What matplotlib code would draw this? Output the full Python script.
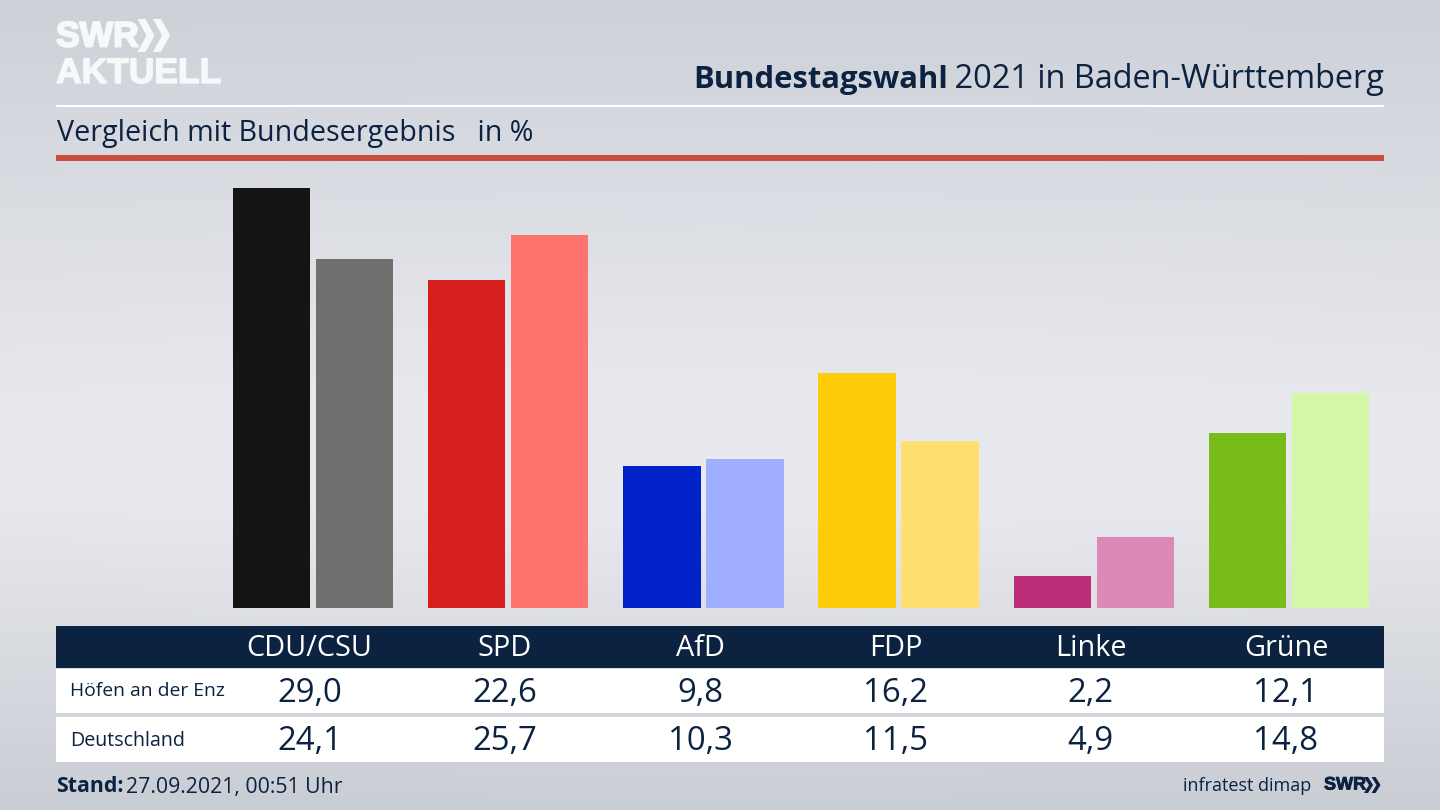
import numpy as np
import matplotlib
matplotlib.use("Agg")
import matplotlib.pyplot as plt
import matplotlib.patheffects as pe
from matplotlib.colors import LinearSegmentedColormap
from matplotlib.patches import Rectangle, Polygon

parties = ["CDU/CSU", "SPD", "AfD", "FDP", "Linke", "Grüne"]
local_label = "Höfen an der Enz"
national_label = "Deutschland"
local_values = [29.0, 22.6, 9.8, 16.2, 2.2, 12.1]
national_values = [24.1, 25.7, 10.3, 11.5, 4.9, 14.8]
local_colors = ["#141414", "#d61f1c", "#0022c8", "#ffcc0a", "#bd2e78", "#78bc1c"]
national_colors = ["#72706e", "#ff736e", "#a0aeff", "#fee070", "#de88b8", "#d3f6a8"]

NAVY = "#0b2240"
FONT = ["Open Sans", "Noto Sans", "DejaVu Sans"]
plt.rcParams["font.family"] = FONT

W, H = 1440, 810
fig = plt.figure(figsize=(14.4, 8.1), dpi=100)

# page layer in pixel coordinates
bg = fig.add_axes([0, 0, 1, 1], zorder=0)
bg.set_xlim(0, W)
bg.set_ylim(H, 0)
bg.axis("off")
cmap = LinearSegmentedColormap.from_list(
    "bg", [(0, "#cdd1d8"), (0.5, "#e9eaef"), (0.62, "#e9eaef"), (1, "#c9cdd4")])
yy = np.linspace(0, 1, 256)[:, None]
xx = np.linspace(-1, 1, 256)[None, :]
grad = np.clip(yy + 0 * xx, 0, 1)
shade = 1 - 0.05 * xx ** 2
rgb = cmap(grad)[:, :, :3] * shade[:, :, None] + (1 - shade[:, :, None]) * 0.80
bg.imshow(rgb, extent=[0, W, H, 0], aspect="auto", interpolation="bilinear")

L, R = 56, 1384


def rect(x0, y0, x1, y1, color):
    bg.add_patch(Rectangle((x0, y0), x1 - x0, y1 - y0, fc=color, ec="none"))


def txt(x, y, s, size, color=NAVY, ha="left", weight="normal", **kw):
    return bg.text(x, y, s, fontsize=size, color=color, ha=ha, va="center",
                   fontweight=weight, **kw)


def chevrons(x, y0, y1, w, gap, n_width, color):
    for i in range(2):
        x0 = x + i * gap
        ym = (y0 + y1) / 2
        bg.add_patch(Polygon([(x0, y0), (x0 + n_width, y0), (x0 + n_width + w, ym),
                              (x0 + n_width, y1), (x0, y1), (x0 + w, ym)],
                             closed=True, fc=color, ec="none"))


def heavy(t, width, color):
    t.set_path_effects([pe.withStroke(linewidth=width, foreground=color)])


# logo
LOGO = "#f7f8f9"
heavy(txt(56, 37, "SWR", 25.5, color=LOGO, weight="bold", family="Liberation Sans"), 1.4, LOGO)
chevrons(137.5, 19, 52, 9, 15.5, 8, LOGO)
heavy(txt(56, 73.5, "AKTUELL", 25.5, color=LOGO, weight="bold", family="Liberation Sans"), 1.0, LOGO)

# header lines
rect(L, 104.5, R, 107, "#ffffff")
rect(L, 155, R, 160.5, "#c84f3e")

# title, right aligned from two runs
t2 = txt(R, 80, " 2021 in Baden-Württemberg", 23.4, ha="right")
fig.canvas.draw()
ext = t2.get_window_extent()
txt(ext.x0 + 2, 80, "Bundestagswahl", 22.3, ha="right", weight="bold")

txt(57, 134, "Vergleich mit Bundesergebnis   in %", 20.6)

# bars
px_per_unit = 14.5
base_y, top_y = 608, 160
group_step = 195.2
x0_px = 313
ax = fig.add_axes([0, 1 - base_y / H, 1, (base_y - top_y) / H], zorder=1)
ax.patch.set_alpha(0)
ax.axis("off")
ax.set_xlim(-x0_px / group_step, (W - x0_px) / group_step)
ax.set_ylim(0, (base_y - top_y) / px_per_unit)
pos = np.arange(len(parties))
ax.bar(pos - 0.2124, local_values, width=0.396, color=local_colors)
ax.bar(pos + 0.2124, national_values, width=0.396, color=national_colors)

# table
rect(L, 626, R, 668, NAVY)
rect(L, 668.5, R, 713, "#ffffff")
rect(L, 717, R, 762, "#ffffff")
label_step = 195.3
for i, p in enumerate(parties):
    cx = 309.5 + label_step * i
    txt(cx, 649, p, 20.8, color="#ffffff", ha="center")
    txt(cx, 693, f"{local_values[i]:.1f}".replace(".", ","), 23.7, ha="center")
    txt(cx, 742, f"{national_values[i]:.1f}".replace(".", ","), 23.7, ha="center")
txt(70, 691, local_label, 13.9)
txt(70, 741, national_label, 14.1)

# footer
s = txt(56, 787, "Stand:", 15.3, weight="bold")
fig.canvas.draw()
txt(s.get_window_extent().x1 + 3, 787, "27.09.2021, 00:51 Uhr", 15.3)
txt(1311, 786, "infratest dimap", 13, ha="right")
heavy(txt(1324, 785, "SWR", 13, weight="bold", family="Liberation Sans"), 0.6, NAVY)
chevrons(1364, 777, 793, 5, 7.5, 4, NAVY)

fig.savefig("out.png", dpi=100)
